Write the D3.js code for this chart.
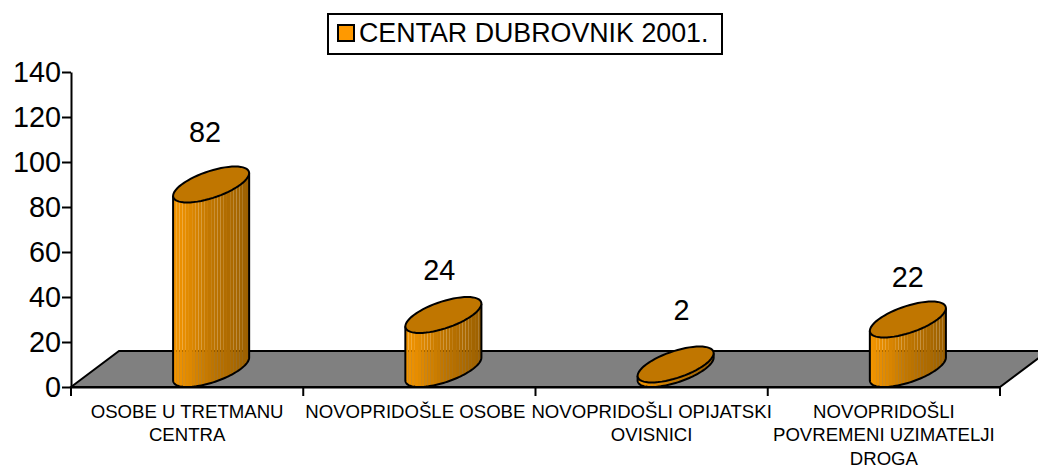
<!DOCTYPE html>
<meta charset="utf-8">
<style type="text/css">
html, body { margin: 0; padding: 0; background: #fff; }
svg { display: block; }
text { font-family: "Liberation Sans", Arial, sans-serif; fill: #000; }
.axis path, .axis line, .tickmark { stroke: #000; stroke-width: 2; fill: none; }
.axis text { font-size: 28.8px; }
.catlabel { font-size: 18.6px; text-anchor: middle; }
.vallabel { font-size: 28.8px; text-anchor: middle; }
</style>
<body>
<script src="https://d3js.org/d3.v7.min.js"></script>
<script>

// data
var seriesName = "CENTAR DUBROVNIK 2001.";
var categories = ["OSOBE U TRETMANU CENTRA", "NOVOPRIDOŠLE OSOBE", "NOVOPRIDOŠLI OPIJATSKI OVISNICI", "NOVOPRIDOŠLI POVREMENI UZIMATELJI DROGA"];
var categoryLines = [
  ["OSOBE U TRETMANU", "CENTRA"],
  ["NOVOPRIDOŠLE OSOBE"],
  ["NOVOPRIDOŠLI OPIJATSKI", "OVISNICI"],
  ["NOVOPRIDOŠLI", "POVREMENI UZIMATELJI", "DROGA"]
];
var values = [82, 24, 2, 22];
var yTicks = [0, 20, 40, 60, 80, 100, 120, 140];

var width = 1038, height = 468;
var margin = {left: 71, right: 38, top: 72, bottom: 81};

// depth of the 3d floor
var depthX = 48, depthY = 36;
var radiusX = 29.5;

var x = d3.scaleBand()
    .domain(categories)
    .range([margin.left, width - margin.right]);

var y = d3.scaleLinear()
    .domain([0, 140])
    .range([height - margin.bottom, margin.top]);

var svg = d3.select("body").append("svg")
    .attr("width", width)
    .attr("height", height);

var defs = svg.append("defs");

// floor
var floorY = y(0);
svg.append("path")
    .attr("d", d3.line()([
      [margin.left, floorY],
      [margin.left + depthX, floorY - depthY],
      [width - margin.right + depthX, floorY - depthY],
      [width - margin.right, floorY]
    ]) + "Z")
    .attr("fill", "#808080")
    .attr("stroke", "#000")
    .attr("stroke-width", 2);

// axes
svg.append("g")
    .attr("class", "axis")
    .attr("transform", "translate(" + margin.left + ",0)")
    .call(d3.axisLeft(y).tickValues(yTicks).tickSize(9).tickSizeOuter(0).tickPadding(1));

var xAxis = svg.append("g")
    .attr("class", "axis")
    .attr("transform", "translate(0," + floorY + ")")
    .call(d3.axisBottom(x).tickSize(0).tickFormat(""));
xAxis.selectAll(".tick text").remove();

svg.selectAll(".tickmark")
    .data(d3.range(categories.length + 1))
  .enter().append("line")
    .attr("class", "tickmark")
    .attr("x1", function(d) { return margin.left + d * x.step(); })
    .attr("x2", function(d) { return margin.left + d * x.step(); })
    .attr("y1", floorY)
    .attr("y2", floorY + 9);

// category labels, the second one sits a little left of its band
var catShiftX = [0, -4, 0, 0];

svg.selectAll(".catlabel")
    .data(categories)
  .enter().append("text")
    .attr("class", "catlabel")
    .attr("y", floorY + 30.5)
    .each(function(d, i) {
      d3.select(this).selectAll("tspan")
          .data(categoryLines[i])
        .enter().append("tspan")
          .attr("x", x(d) + x.bandwidth() / 2 + catShiftX[i])
          .attr("dy", function(l, j) { return j ? 23.5 : 0; })
          .text(function(l) { return l; });
    });

// cylinders: the circle is skewed along the floor depth
var ex = depthX / 2, ey = -depthY / 2;
var extent = Math.sqrt(radiusX * radiusX + ex * ex);
var tMax = Math.atan2(ex, radiusX);

function rim(cx, cy, t0, t1) {
  return d3.range(0, 61).map(function(k) {
    var t = t0 + (t1 - t0) * k / 60;
    return [cx + radiusX * Math.cos(t) + ex * Math.sin(t), cy + ey * Math.sin(t)];
  });
}

var shade = d3.scaleLinear()
    .domain([0, 0.12, 0.5, 1])
    .range(["#f29400", "#e88e00", "#c07600", "#9c6000"]);

var line = d3.line();

var bars = svg.selectAll(".bar")
    .data(values)
  .enter().append("g")
    .attr("class", "bar");

bars.each(function(v, i) {
  var g = d3.select(this);
  var cx = x(categories[i]) + x.bandwidth() / 2 + ex;
  var baseY = floorY + ey;
  var topY = y(v) + ey;

  // left rim, down to the base, front arc, up the right side
  var outline = rim(cx, baseY, Math.PI + tMax, 2 * Math.PI + tMax);
  var body = [[cx - extent, topY + ey * Math.sin(tMax) * -1]]
      .concat(outline)
      .concat([[cx + extent, topY + ey * Math.sin(tMax)]]);

  defs.append("clipPath").attr("id", "clip" + i)
    .append("path").attr("d", line(body) + "Z");

  // narrow bands, the seams between them give the fine stripes
  var n = 24, bw = 2 * extent / n;
  g.append("g").attr("clip-path", "url(#clip" + i + ")")
    .selectAll("rect")
    .data(d3.range(n))
    .enter().append("rect")
      .attr("x", function(k) { return cx - extent + k * bw; })
      .attr("y", topY - 40)
      .attr("width", bw)
      .attr("height", baseY - topY + 80)
      .attr("fill", function(k) { return shade(k / (n - 1)); });

  g.append("path")
      .attr("d", line(body))
      .attr("fill", "none")
      .attr("stroke", "#000")
      .attr("stroke-width", 2);

  g.append("path")
      .attr("d", line(rim(cx, topY, 0, 2 * Math.PI)) + "Z")
      .attr("fill", "#c07600")
      .attr("stroke", "#000")
      .attr("stroke-width", 2);
});

// value labels sit above the cylinders, moved by hand as in the picture
var labelShiftX = [-6, -4, 6, 0];
var labelShiftY = [-43, -35, -45, -33];

svg.selectAll(".vallabel")
    .data(values)
  .enter().append("text")
    .attr("class", "vallabel")
    .attr("x", function(d, i) { return x(categories[i]) + x.bandwidth() / 2 + ex + labelShiftX[i]; })
    .attr("y", function(d, i) { return y(d) + ey + labelShiftY[i]; })
    .text(function(d) { return d; });

// legend
var legend = svg.append("g");
legend.append("rect")
    .attr("x", 328).attr("y", 14)
    .attr("width", 394).attr("height", 40)
    .attr("fill", "#fff")
    .attr("stroke", "#000")
    .attr("stroke-width", 2);
legend.append("rect")
    .attr("x", 338).attr("y", 25)
    .attr("width", 16).attr("height", 16)
    .attr("fill", "#ff9900")
    .attr("stroke", "#000")
    .attr("stroke-width", 2);
legend.append("text")
    .attr("x", 359).attr("y", 42)
    .attr("font-size", 26.8)
    .text(seriesName);

</script>
</body>
